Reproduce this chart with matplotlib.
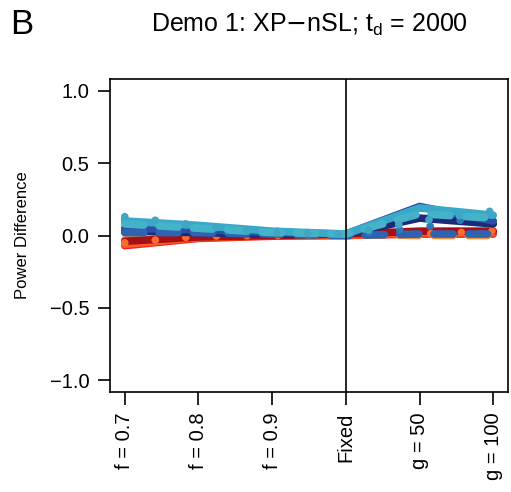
import matplotlib
matplotlib.use("Agg")
import matplotlib.pyplot as plt
import numpy as np

plt.rcParams['font.family'] = ['Liberation Sans', 'DejaVu Sans']

categories = ["f = 0.7", "f = 0.8", "f = 0.9", "Fixed", "g = 50", "g = 100"]

series_values = [
    [-0.07, -0.02, -0.005, 0.00, 0.01, 0.01],
    [-0.06, -0.015, 0.00, 0.00, 0.02, 0.02],
    [-0.03, 0.00, 0.005, 0.005, 0.00, 0.00],
    [-0.04, -0.01, 0.00, 0.01, 0.03, 0.03],
    [-0.05, -0.005, 0.00, 0.005, 0.01, 0.03],
    [0.03, 0.02, 0.01, 0.01, 0.12, 0.08],
    [0.05, 0.04, 0.02, 0.01, 0.20, 0.10],
    [0.02, 0.02, 0.01, 0.00, 0.01, 0.01],
    [0.11, 0.06, 0.03, 0.01, 0.05, 0.15],
    [0.10, 0.07, 0.03, 0.01, 0.19, 0.14],
    [0.08, 0.05, 0.02, 0.01, 0.15, 0.12],
    [0.13, 0.07, 0.02, 0.01, 0.10, 0.17],
]
series_colors = ["#e8291c", "#ff5a1f", "#f7913a", "#a50f15", "#fc6c2c",
                 "#1c2a7a", "#2a4fa8", "#2f62b0", "#2e78b8",
                 "#3aa9c8", "#44b3c9", "#3fa6c4"]
series_styles = ["-", "-", (0, (2.5, 2)), "-", (0, (0.01, 4)),
                 "-", "-", (0, (2.5, 2)), (0, (0.01, 4)),
                 "-", (0, (2.5, 2)), (0, (0.01, 4))]

fig = plt.figure(figsize=(5.11, 4.92), dpi=100)
ax = fig.add_axes([110/511, 100/492, 398/511, 313/492])

x = np.arange(1, len(categories) + 1)
for vals, c, ls in zip(series_values, series_colors, series_styles):
    ax.plot(x, vals, color=c, linestyle=ls, linewidth=5.5,
            solid_capstyle='round', dash_capstyle='round', solid_joinstyle='round')

ax.axvline(4, color='black', linewidth=1.2)
ax.set_xlim(0.8, 6.2)
ax.set_ylim(-1.08, 1.08)
ax.set_yticks([-1.0, -0.5, 0.0, 0.5, 1.0])
ax.set_yticklabels(["\u22121.0", "\u22120.5", "0.0", "0.5", "1.0"], fontsize=14.5)
ax.set_xticks(x)
ax.set_xticklabels(categories, rotation=90, fontsize=14.5)
ax.tick_params(axis='both', direction='out', length=9, width=1.2, pad=6)
for s in ax.spines.values():
    s.set_linewidth(1.2)
ax.set_ylabel("Power Difference", fontsize=12)
ax.yaxis.set_label_coords(-(110 - 30) / 398, 0.5)

fig.text(309/511, 1 - 25/492, r"Demo 1: XP$-$nSL; t$_\mathregular{d}$ = 2000",
         ha='center', va='center', fontsize=18)
fig.text(10/511, 1 - 24/492, "B", ha='left', va='center', fontsize=25)

fig.savefig("out.png", dpi=100)
